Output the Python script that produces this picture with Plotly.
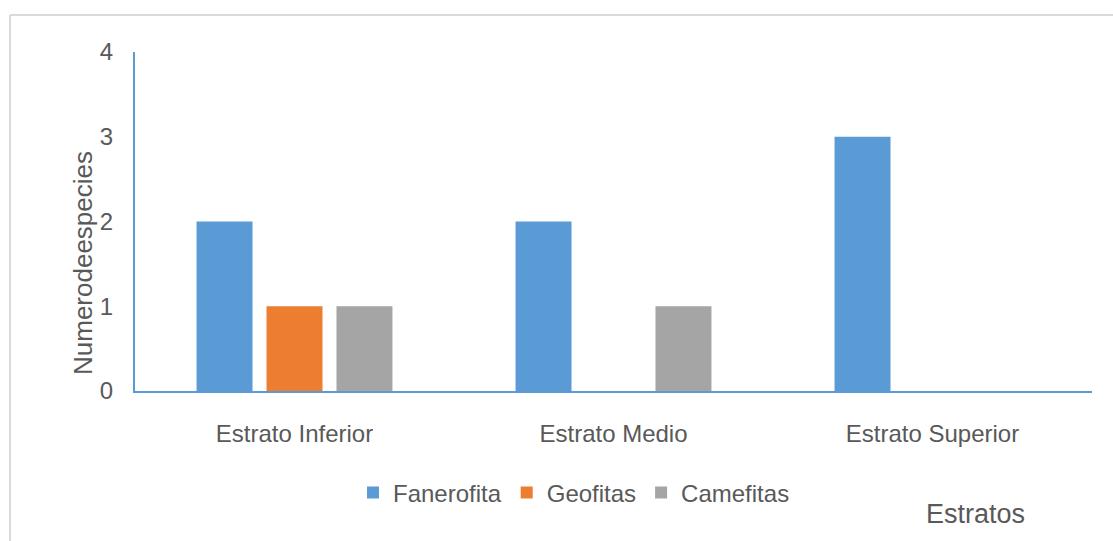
import plotly.graph_objects as go

estratos = ["Estrato Inferior", "Estrato Medio", "Estrato Superior"]
fanerofita = [2, 2, 3]
geofitas = [1, 0, 0]
camefitas = [1, 1, 0]
y_ticks = [0, 1, 2, 3, 4]

series = [
    ("Fanerofita", fanerofita, "#5B9BD5"),
    ("Geofitas", geofitas, "#ED7D31"),
    ("Camefitas", camefitas, "#A5A5A5"),
]

FONT = "Arial, Liberation Sans, sans-serif"
GREY = "#595959"

fig = go.Figure()
for name, vals, color in series:
    fig.add_trace(go.Bar(name=name, x=estratos, y=vals,
                         marker=dict(color=color, line=dict(width=0))))

# pixel -> paper helpers for a 1113x541 canvas
W, H = 1113, 541
L, R, T, B = 135, 21, 52, 150
pw, ph = W - L - R, H - T - B
px = lambda x: (x - L) / pw
py = lambda y: (H - B - y) / ph

fig.update_layout(
    width=W, height=H,
    margin=dict(l=L, r=R, t=T, b=B),
    paper_bgcolor="white", plot_bgcolor="white",
    barmode="group", bargap=0.342, bargroupgap=0.2,
    font=dict(family=FONT, color=GREY, size=24),
    showlegend=True,
    legend=dict(orientation="h", x=px(574), xanchor="center",
                y=py(493), yanchor="middle",
                font=dict(size=24, color=GREY), itemwidth=30,
                tracegroupgap=0),
    xaxis=dict(showgrid=False, showline=True, linecolor="#5B9BD5", linewidth=2,
               ticks="", ticklabelstandoff=20,
               tickfont=dict(size=24, color=GREY)),
    yaxis=dict(range=[0, 4], tickvals=y_ticks, showgrid=False, zeroline=False,
               showline=True, linecolor="#5B9BD5", linewidth=2,
               ticks="", ticklabelstandoff=15,
               tickfont=dict(size=24, color=GREY)),
    annotations=[
        dict(text="Numerodeespecies", textangle=-90, xref="paper", yref="paper",
             x=px(83), y=py(263), xanchor="center", yanchor="middle",
             showarrow=False, font=dict(size=26, color=GREY)),
        dict(text="Estratos", xref="paper", yref="paper",
             x=px(975), y=py(514), xanchor="center", yanchor="middle",
             showarrow=False, font=dict(size=27, color=GREY)),
    ],
    shapes=[
        dict(type="line", xref="paper", yref="paper", x0=px(10), x1=px(10),
             y0=py(545), y1=py(15), line=dict(color="#D9D9D9", width=2)),
        dict(type="line", xref="paper", yref="paper", x0=px(10), x1=px(1115),
             y0=py(15), y1=py(15), line=dict(color="#D9D9D9", width=2)),
    ],
)

fig.write_html("out.html")
